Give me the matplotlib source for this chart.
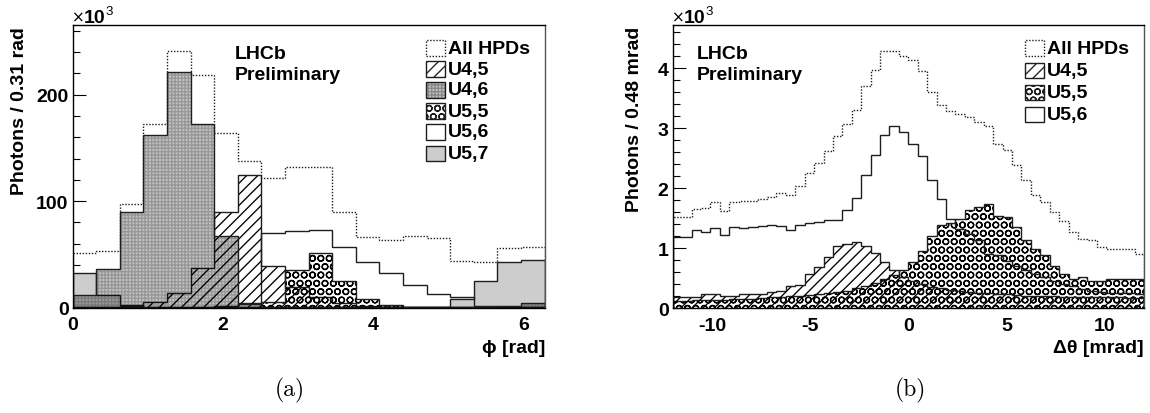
import numpy as np
import matplotlib
matplotlib.use('Agg')
import matplotlib.pyplot as plt
from matplotlib.patches import Rectangle
from matplotlib.ticker import MultipleLocator

plt.rcParams['font.family'] = ['Liberation Sans', 'DejaVu Sans']
plt.rcParams['font.weight'] = 'bold'
plt.rcParams['axes.unicode_minus'] = False
plt.rcParams['hatch.linewidth'] = 0.95

# (a) phi distribution, 20 bins over [0, 2pi], photons x 10^3
phi_range = (0.0, 2 * np.pi)
phi_nbins = 20
phi_all = [51, 53, 97, 172, 241, 218, 164, 138, 122, 132,
           132, 90, 66, 64, 67, 65, 44, 43, 56, 57]
phi_u45 = [0.5, 0.5, 1.5, 5.6, 14, 37, 90, 125, 39, 19,
           10, 4, 2, 1, 0.5, 0.3, 0.2, 0.2, 0.3, 0.4]
phi_u46 = [12, 36, 90, 162, 221, 172, 67, 3.4, 1, 0.5,
           0.3, 0.2, 0.2, 0.2, 0.2, 0.3, 0.5, 1, 2, 4]
phi_u55 = [0, 0, 0, 0, 0, 0, 0.5, 1, 5.6, 35,
           51.5, 25, 8.5, 3, 1, 0.5, 0.2, 0.2, 0.2, 0.2]
phi_u56 = [0.5, 0.5, 0.5, 0.5, 0.5, 0.8, 1.5, 4, 70, 72,
           73, 57, 43, 33, 21, 13, 10, 2, 1, 0.5]
phi_u57 = [32.5, 12, 2.5, 0.5, 0.3, 0.2, 0.2, 0.2, 0.2, 0.2,
           0.2, 0.2, 0.2, 0.3, 0.5, 1, 8, 25, 43, 45]

# (b) delta theta distribution, 50 bins over [-12, 12] mrad, photons x 10^3
dth_range = (-12.0, 12.0)
dth_nbins = 50
dth_all = [1.52, 1.52, 1.65, 1.67, 1.77, 1.62, 1.77, 1.78, 1.79, 1.82,
           1.85, 1.92, 1.88, 2.04, 2.26, 2.42, 2.62, 2.87, 3.07, 3.31,
           3.71, 3.97, 4.29, 4.28, 4.21, 4.13, 3.96, 3.61, 3.38, 3.29,
           3.24, 3.18, 3.10, 3.04, 2.74, 2.63, 2.38, 2.13, 1.88, 1.77,
           1.60, 1.46, 1.27, 1.16, 1.13, 1.02, 0.99, 0.98, 0.99, 0.91]
dth_u45 = [0.18, 0.19, 0.19, 0.23, 0.23, 0.21, 0.21, 0.24, 0.23, 0.23,
           0.27, 0.29, 0.37, 0.39, 0.57, 0.68, 0.86, 1.03, 1.07, 1.10,
           1.04, 0.92, 0.77, 0.63, 0.52, 0.45, 0.40, 0.36, 0.33, 0.30,
           0.28, 0.27, 0.26, 0.25, 0.24, 0.23, 0.22, 0.21, 0.21, 0.20,
           0.20, 0.19, 0.19, 0.19, 0.18, 0.18, 0.18, 0.18, 0.17, 0.17]
dth_u55 = [0.12, 0.12, 0.13, 0.13, 0.14, 0.14, 0.15, 0.15, 0.16, 0.17,
           0.18, 0.19, 0.20, 0.21, 0.22, 0.23, 0.25, 0.27, 0.29, 0.33,
           0.37, 0.42, 0.48, 0.55, 0.63, 0.77, 0.96, 1.20, 1.38, 1.42,
           1.49, 1.64, 1.68, 1.74, 1.54, 1.52, 1.35, 1.13, 0.99, 0.88,
           0.71, 0.57, 0.49, 0.52, 0.46, 0.46, 0.49, 0.49, 0.49, 0.49]
dth_u56 = [1.18, 1.18, 1.31, 1.27, 1.33, 1.22, 1.35, 1.33, 1.35, 1.37,
           1.38, 1.37, 1.31, 1.39, 1.42, 1.44, 1.47, 1.47, 1.64, 1.83,
           2.22, 2.56, 2.88, 3.03, 2.93, 2.74, 2.53, 2.13, 1.82, 1.49,
           1.32, 1.24, 1.13, 0.91, 0.88, 0.79, 0.71, 0.63, 0.57, 0.52,
           0.46, 0.41, 0.37, 0.32, 0.29, 0.27, 0.26, 0.25, 0.25, 0.24]

W, H = 1150, 414
LINE = '#1e1e1e'

# styles shared by histograms and legend boxes
STY = {
    'all': dict(face='none', hatch=None, ls=(0, (1, 1.2))),
    'u45': dict(face='none', hatch='///', ls='-'),
    'u46': dict(face=(0, 0, 0, 0.24), hatch='+++++', ls='-'),
    'u55': dict(face='none', hatch='OO', ls='-'),
    'u56': dict(face='none', hatch=None, ls='-'),
    'u57': dict(face='#cdcdcd', hatch=None, ls='-'),
}


def fx(x):
    return x / W


def fy(y):
    return 1 - y / H


def draw_hist(ax, edges, vals, key, z):
    s = STY[key]
    if s['face'] != 'none' or s['hatch']:
        hc = (0, 0, 0, 0.22) if key == 'u46' else 'black'
        ax.stairs(vals, edges, fill=True, facecolor=s['face'], edgecolor=hc,
                  hatch=s['hatch'], linewidth=0, zorder=z)
    ax.stairs(vals, edges, baseline=0, color=LINE, linewidth=1.0,
              linestyle=s['ls'], zorder=z + 0.5)


def style_axes(ax, xlim, ylim, ymaj, ymin, xmaj):
    ax.set_xlim(*xlim)
    ax.set_ylim(*ylim)
    ax.set_axisbelow(True)
    ax.yaxis.set_major_locator(MultipleLocator(ymaj))
    ax.yaxis.set_minor_locator(MultipleLocator(ymin))
    ax.xaxis.set_major_locator(MultipleLocator(xmaj))
    ax.tick_params(axis='y', which='major', direction='in', length=9.5,
                   width=0.8, labelsize=14, pad=3)
    ax.tick_params(axis='y', which='minor', direction='in', length=4.8,
                   width=0.8)
    ax.tick_params(axis='x', which='both', length=0, labelsize=14, pad=6)
    for sp in ax.spines.values():
        sp.set_linewidth(1.0)
        sp.set_zorder(10)
    ax.spines['right'].set_color('#555555')
    for lab in ax.get_xticklabels() + ax.get_yticklabels():
        lab.set_fontweight('bold')


def legend_box(fig, x, yc, key):
    s = STY[key]
    hc = (0, 0, 0, 0.3) if key == 'u46' else LINE
    face = s['face'] if s['face'] != 'none' else 'white'
    r = Rectangle((fx(x), fy(yc + 7.5)), 19 / W, 15 / H,
                  transform=fig.transFigure, facecolor=face,
                  edgecolor=hc, hatch=s['hatch'], linewidth=0, zorder=5)
    fig.add_artist(r)
    o = Rectangle((fx(x), fy(yc + 7.5)), 19 / W, 15 / H,
                  transform=fig.transFigure, facecolor='none',
                  edgecolor=LINE, linewidth=1.0, linestyle=s['ls'], zorder=6)
    fig.add_artist(o)


fig = plt.figure(figsize=(W / 100, H / 100), dpi=100)

# ---------- (a) ----------
ax1 = fig.add_axes([fx(72.7), fy(308.7), fx(544.6 - 72.7), 282.7 / H])
e1 = np.linspace(phi_range[0], phi_range[1], phi_nbins + 1)
draw_hist(ax1, e1, phi_u57, 'u57', 1)
draw_hist(ax1, e1, phi_u56, 'u56', 2)
draw_hist(ax1, e1, phi_u45, 'u45', 3)
draw_hist(ax1, e1, phi_u55, 'u55', 4)
draw_hist(ax1, e1, phi_u46, 'u46', 5)
draw_hist(ax1, e1, phi_all, 'all', 6)
style_axes(ax1, phi_range, (0, 265.4), 100, 20, 2)

# ---------- (b) ----------
ax2 = fig.add_axes([fx(672.7), fy(309.3), fx(1144 - 672.7), 283.3 / H])
e2 = np.linspace(dth_range[0], dth_range[1], dth_nbins + 1)
draw_hist(ax2, e2, dth_u55, 'u55', 1)
draw_hist(ax2, e2, dth_u45, 'u45', 2)
draw_hist(ax2, e2, dth_u56, 'u56', 3)
draw_hist(ax2, e2, dth_all, 'all', 4)
style_axes(ax2, dth_range, (0, 4.72), 1, 0.2, 5)

# exponent labels above the y axes
for x0 in (72, 672):
    fig.text(fx(x0), fy(23), '×', fontsize=11, fontweight='normal',
             va='baseline', ha='left', family=['DejaVu Sans'])
    fig.text(fx(x0 + 12), fy(23), '10', fontsize=14, fontweight='bold',
             va='baseline', ha='left')
    fig.text(fx(x0 + 33), fy(15), '3', fontsize=9.5, fontweight='normal',
             va='baseline', ha='left')

fig.text(fx(20), fy(27), 'Photons / 0.31 rad', rotation=90, ha='center',
         va='top', fontsize=14, fontweight='bold')
fig.text(fx(634.5), fy(27), 'Photons / 0.48 mrad', rotation=90, ha='center',
         va='top', fontsize=14, fontweight='bold')
fig.text(fx(545), fy(349), 'ϕ [rad]', ha='right', va='center', fontsize=14,
         fontweight='bold')
fig.text(fx(1144), fy(349), 'Δθ [mrad]', ha='right', va='center', fontsize=14,
         fontweight='bold')
fig.text(fx(290), fy(390), '(a)', ha='center', va='center', fontsize=17,
         family='cmr10', fontweight='normal')
fig.text(fx(910), fy(390), '(b)', ha='center', va='center', fontsize=17,
         family='cmr10', fontweight='normal')

for x0 in (235, 697):
    fig.text(fx(x0), fy(59), 'LHCb', ha='left', va='baseline', fontsize=14,
             fontweight='bold')
    fig.text(fx(x0), fy(80), 'Preliminary', ha='left', va='baseline',
             fontsize=14, fontweight='bold')

# legends
leg1_keys = ['all', 'u45', 'u46', 'u55', 'u56', 'u57']
leg1_labels = ['All HPDs', 'U4,5', 'U4,6', 'U5,5', 'U5,6', 'U5,7']
for i, (k, lab) in enumerate(zip(leg1_keys, leg1_labels)):
    yc = 49 + 21 * i
    legend_box(fig, 426, yc, k)
    fig.text(fx(448), fy(yc), lab, ha='left', va='center', fontsize=14,
             fontweight='bold')

leg2_keys = ['all', 'u45', 'u55', 'u56']
leg2_labels = ['All HPDs', 'U4,5', 'U5,5', 'U5,6']
for i, (k, lab) in enumerate(zip(leg2_keys, leg2_labels)):
    yc = 49 + 22.3 * i
    legend_box(fig, 1025, yc, k)
    fig.text(fx(1047), fy(yc), lab, ha='left', va='center', fontsize=14,
             fontweight='bold')

fig.savefig('out.png', dpi=100)
